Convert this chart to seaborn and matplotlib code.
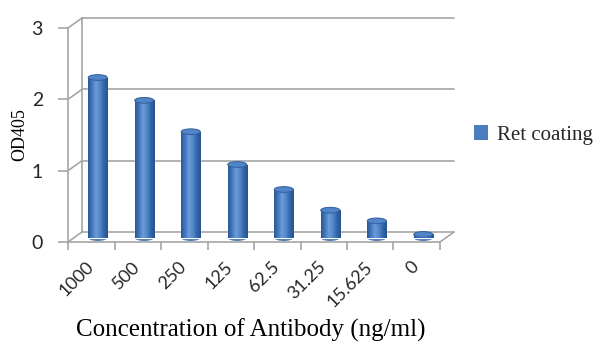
import numpy as np
import pandas as pd
import matplotlib
matplotlib.use("Agg")
import matplotlib.pyplot as plt
import seaborn as sns
from matplotlib.transforms import offset_copy, IdentityTransform, ScaledTranslation
from matplotlib.patches import Ellipse, Patch
from matplotlib.colors import LinearSegmentedColormap

concentrations = ["1000", "500", "250", "125", "62.5", "31.25", "15.625", "0"]
od405 = [2.25, 1.93, 1.49, 1.03, 0.68, 0.39, 0.24, 0.05]
y_ticks = [0, 1, 2, 3]
series_name = "Ret coating"

sns.set_theme(style="white")
plt.rcParams['font.family'] = ['DejaVu Sans']

GRID = "#a6a6a6"
BAR = "#4a7ebf"
serif = ['Liberation Serif', 'DejaVu Serif']
sans = ['Lato', 'DejaVu Sans']

fig = plt.figure(figsize=(6, 3.58), dpi=100)
ax = fig.add_axes([68 / 600, 1 - 242 / 358, 372 / 600, 214 / 358])
df = pd.DataFrame({"conc": concentrations, "od": od405})
sns.barplot(data=df, x="conc", y="od", width=0.41, color=BAR, saturation=1, ax=ax)
ax.set_xlim(-0.5, 7.5)
ax.set_ylim(0, 3)
for s in ax.spines.values():
    s.set_visible(False)
ax.patch.set_alpha(0)

back_t = offset_copy(ax.transData, fig=fig, x=14, y=10, units='dots')
bar_t = offset_copy(ax.transData, fig=fig, x=6.5, y=4, units='dots')

# back wall gridlines + floor back edge
for v in y_ticks:
    ax.plot([-0.5, 7.5], [v, v], transform=back_t, color=GRID, lw=1.2, clip_on=False, zorder=0)
ax.plot([-0.5, -0.5], [0, 3], transform=back_t, color=GRID, lw=1.2, clip_on=False, zorder=0)
ax.plot([-0.5, -0.5], [0, 3], color=GRID, lw=1.2, clip_on=False, zorder=0)
ax.plot([-0.5, 7.5], [0, 0], color=GRID, lw=1.2, clip_on=False, zorder=0)
fig.canvas.draw()
ident = IdentityTransform()
for (xx, yy) in [(-0.5, v) for v in y_ticks] + [(7.5, 0)]:
    p0 = ax.transData.transform((xx, yy))
    ax.plot([p0[0], p0[0] + 14], [p0[1], p0[1] + 10], transform=ident,
            color=GRID, lw=1.2, clip_on=False, zorder=0)

# cylinder-like bars
cmap = LinearSegmentedColormap.from_list(
    "cyl", ["#2a5897", "#4378bd", "#6c9cda", "#5287cb", "#3466a8", "#27528f"])
grad = np.linspace(0, 1, 64).reshape(1, -1)
for p in list(ax.patches):
    x0, w, h = p.get_x(), p.get_width(), p.get_height()
    cx = x0 + w / 2
    eh = 0.08
    p.set_transform(bar_t)
    p.set_clip_on(False)
    p.set_zorder(2)
    bot = Ellipse((cx, 0), w, eh, transform=bar_t, facecolor="#3566a6",
                  edgecolor="none", zorder=1.9, clip_on=False)
    ax.add_patch(bot)
    im = ax.imshow(grad, extent=[x0, x0 + w, 0, h], cmap=cmap, aspect='auto',
                   transform=bar_t, zorder=2.1, interpolation='bilinear')
    im.set_clip_path(p)
    top = Ellipse((cx, h), w, eh, transform=bar_t, facecolor="#5185c8",
                  edgecolor="#30609e", lw=0.7, zorder=2.2, clip_on=False)
    ax.add_patch(top)
ax.set_xlim(-0.5, 7.5)
ax.set_ylim(0, 3)

# ticks
ax.set_yticks(y_ticks)
ax.set_yticklabels([str(v) for v in y_ticks], fontfamily=sans, fontsize=14)
ax.tick_params(axis='y', direction='out', length=7, width=1.2, color=GRID, pad=11, left=True)
ax.set_xticks(range(len(concentrations)))
ax.set_xticklabels(concentrations, rotation=45, ha='right', rotation_mode='anchor',
                   fontfamily=sans, fontsize=13)
ax.tick_params(axis='x', which='major', length=0, pad=12)
shift = ScaledTranslation(-6 / 100, 0, fig.dpi_scale_trans)
for lbl in ax.get_xticklabels():
    lbl.set_transform(lbl.get_transform() + shift)
ax.set_xticks(np.arange(-0.5, 8, 1), minor=True)
ax.tick_params(axis='x', which='minor', direction='out', length=6, width=1.2, color=GRID, bottom=True)

ax.set_xlabel("Concentration of Antibody (ng/ml)", fontfamily=serif, fontsize=18, color="black")
ax.xaxis.set_label_coords(0.49, -0.36)
ax.set_ylabel("OD405", fontfamily=serif, fontsize=13, color="black")
ax.yaxis.set_label_coords(-0.108, 0.5)

fig.legend(handles=[Patch(facecolor=BAR, edgecolor='none')], labels=[series_name],
           loc='center left', bbox_to_anchor=(455 / 600, 1 - 135 / 358), frameon=False,
           handlelength=0.7, handleheight=0.7, handletextpad=0.4,
           prop={'family': serif, 'size': 15})

fig.savefig("out.png", dpi=100)
